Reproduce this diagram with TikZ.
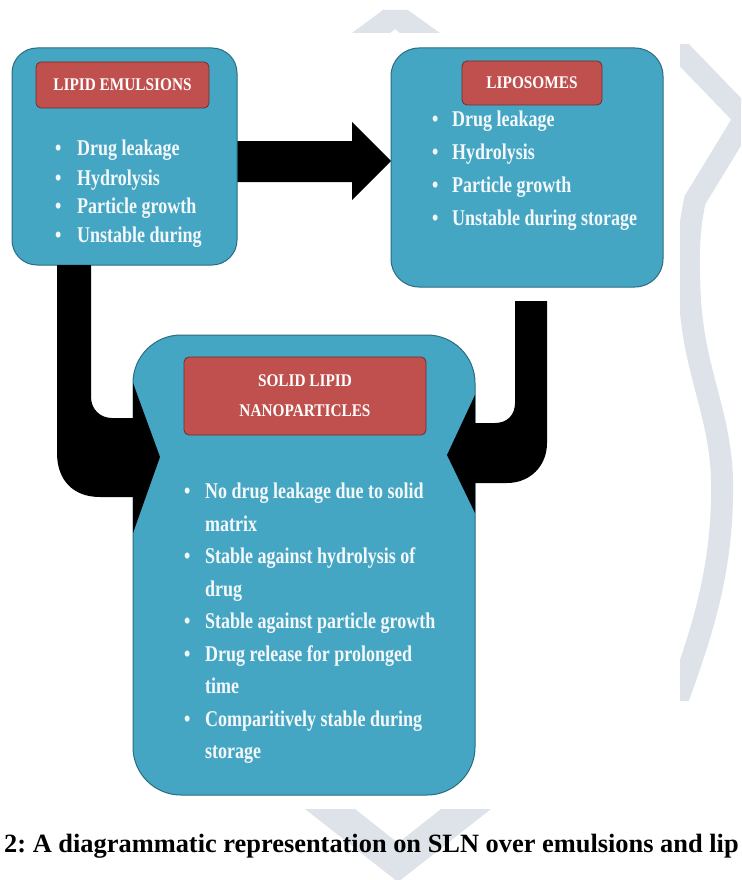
\documentclass[tikz,border=0pt]{standalone}
\usepackage{fontspec}
\setmainfont{Liberation Serif}
\newfontfamily\condf[FakeStretch=0.8]{Liberation Serif}
\newfontfamily\labf[FakeStretch=0.86]{Liberation Serif}
\definecolor{boxblue}{HTML}{45A6C4}
\definecolor{boxedge}{HTML}{2C6B80}
\definecolor{labred}{HTML}{C0504D}
\definecolor{labedge}{HTML}{6E2E2C}
\definecolor{wm}{HTML}{DDE3E8}
\definecolor{txtw}{HTML}{F4F8FA}
\frenchspacing
\begin{document}
\begin{tikzpicture}[x=1pt,y=-1pt,
  bluebox/.style={draw=boxedge, line width=1pt, fill=boxblue, inner sep=0pt},
  labbox/.style={draw=labedge, line width=0.8pt, fill=labred, rounded corners=5pt, inner sep=0pt, text=white, font=\labf\bfseries\fontsize{17.8}{30}\selectfont},
  txt/.style={anchor=base west, inner sep=0pt, text=txtw, font=\condf\bfseries\fontsize{22.5}{25}\selectfont},
  blk/.style={fill=black},
  wmark/.style={fill=wm}]
\useasboundingbox (0,0) rectangle (741,880);
\clip (0,0) rectangle (741,880);
% watermark shapes
\fill[wmark] (352,33) -- (383,10) -- (408,10) -- (440,33) -- (400,33) -- (395,29) -- (390,33) -- cycle;
\begin{scope}
\clip (680,45) rectangle (741,700);
\draw[wm, line width=22pt, line join=miter] (660,30) -- (745,118) -- (695,200) .. controls (688,230) and (688,260) .. (690,300) .. controls (695,380) and (725,420) .. (722,500) .. controls (720,580) and (700,640) .. (670,720);
\end{scope}
\fill[wmark] (305,809) -- (355,809) -- (398,843) -- (441,809) -- (491,809) -- (398,882) -- cycle;
% horizontal arrow
\fill[blk] (236,141) -- (352,141) -- (352,122) -- (391,161) -- (352,200) -- (352,182) -- (236,182) -- cycle;
% boxes
\node[bluebox, rounded corners=25pt, minimum width=225pt, minimum height=217pt] (le) at (124.5,156.5) {};
\node[bluebox, rounded corners=28pt, minimum width=272pt, minimum height=239pt] (lp) at (527,167.5) {};
\node[bluebox, rounded corners=48pt, minimum width=342pt, minimum height=460pt] (sln) at (304,565) {};
% curved arrows into SLN
\fill[blk] (57,265) -- (57,453) .. controls (57,480) and (73,497) .. (100,497) -- (133,497) -- (133,533) -- (160,457) -- (133,383) -- (133,418) -- (112,418) .. controls (100,418) and (91,409) .. (91,397) -- (91,265) -- cycle;
\fill[blk] (515,301) -- (515,403) .. controls (515,415) and (507,423) .. (495,423) -- (475,423) -- (475,395) -- (447,455) -- (475,513) -- (475,483) -- (507,483) .. controls (530,483) and (547,466) .. (547,443) -- (547,301) -- cycle;
% labels
\node[labbox, minimum width=173pt, minimum height=46pt] (lel) at (122.5,85) {LIPID EMULSIONS};
\node[labbox, minimum width=140pt, minimum height=44pt] (lpl) at (532,83) {LIPOSOMES};
\node[labbox, minimum width=242pt, minimum height=78pt, align=center] (slnl) at (305,396) {SOLID LIPID\\NANOPARTICLES};
% left box items
\node[txt] (le1) at (55,155) {\makebox[22pt][l]{•}Drug leakage};
\node[txt] (le2) at (55,185) {\makebox[22pt][l]{•}Hydrolysis};
\node[txt] (le3) at (55,213) {\makebox[22pt][l]{•}Particle growth};
\node[txt] (le4) at (55,242) {\makebox[22pt][l]{•}Unstable during};
% right box items
\node[txt] (lp1) at (432,127) {\makebox[20pt][l]{•}Drug leakage};
\node[txt] (lp2) at (432,159) {\makebox[20pt][l]{•}Hydrolysis};
\node[txt] (lp3) at (432,192) {\makebox[20pt][l]{•}Particle growth};
\node[txt] (lp4) at (432,225) {\makebox[20pt][l]{•}Unstable during storage};
% SLN items
\node[txt] (s1) at (184,498) {\makebox[21pt][l]{•}No drug leakage due to solid};
\node[txt] (s1b) at (205,531) {matrix};
\node[txt] (s2) at (184,563) {\makebox[21pt][l]{•}Stable against hydrolysis of};
\node[txt] (s2b) at (205,596) {drug};
\node[txt] (s3) at (184,628) {\makebox[21pt][l]{•}Stable against particle growth};
\node[txt] (s4) at (184,661) {\makebox[21pt][l]{•}Drug release for prolonged};
\node[txt] (s4b) at (205,693) {time};
\node[txt] (s5) at (184,726) {\makebox[21pt][l]{•}Comparitively stable during};
\node[txt] (s5b) at (205,758) {storage};
% caption
\node[anchor=base west, inner sep=0pt, font=\bfseries\fontsize{26.4}{30}\selectfont] (cap) at (4,852) {2: A diagrammatic representation on SLN over emulsions and lip};
\end{tikzpicture}
\end{document}
